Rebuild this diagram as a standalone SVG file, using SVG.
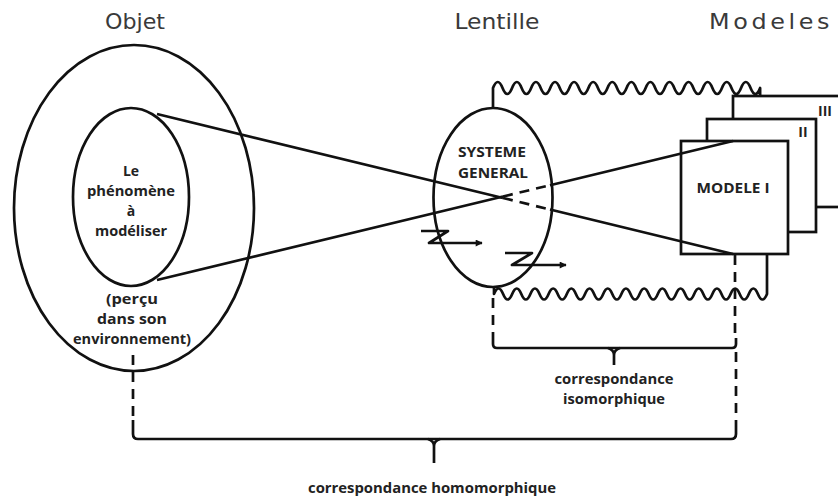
<svg xmlns="http://www.w3.org/2000/svg" width="838" height="497" viewBox="0 0 838 497">
<style>
.ln{fill:none;stroke:#111;stroke-width:2.7;stroke-linejoin:round;stroke-linecap:butt}
.dash{stroke-dasharray:10 7}
.box{fill:#fff;stroke:#111;stroke-width:2.7}
.ttl{font-family:"DejaVu Sans Condensed","DejaVu Sans",sans-serif;font-size:22px;fill:#3a3a3a;text-anchor:middle}
.lbl{font-family:"Open Sans","Lato",sans-serif;font-weight:bold;font-size:14px;fill:#222;text-anchor:middle}
</style>
<defs>
<marker id="ah" viewBox="0 0 10 10" refX="9" refY="5" markerWidth="8" markerHeight="7" orient="auto" markerUnits="userSpaceOnUse">
<path d="M0,0 L10,5 L0,10 z" fill="#111"/>
</marker>
</defs>
<rect width="838" height="497" fill="#fff"/>

<g id="titles">
<text class="ttl" x="135" y="29" textLength="60" lengthAdjust="spacingAndGlyphs">Objet</text>
<text class="ttl" x="497" y="29" textLength="85" lengthAdjust="spacingAndGlyphs">Lentille</text>
<text class="ttl" x="771" y="29" textLength="124" lengthAdjust="spacingAndGlyphs" letter-spacing="3">Modeles</text>
</g>

<g id="modeles">
<rect class="box" x="733" y="96" width="120" height="111"/>
<text class="lbl" x="825" y="116" font-size="11">III</text>
<rect class="box" x="707" y="119" width="109" height="113"/>
<text class="lbl" x="803" y="137" font-size="11">II</text>
<rect class="box" x="681" y="141" width="107" height="113"/>
<text class="lbl" x="733" y="193" textLength="73" lengthAdjust="spacingAndGlyphs">MODELE I</text>
</g>

<g id="objet">
<ellipse class="ln" cx="134" cy="208" rx="120" ry="163"/>
<text class="lbl" x="132" y="304" textLength="52" lengthAdjust="spacingAndGlyphs">(perçu</text>
<text class="lbl" x="132" y="324" textLength="70" lengthAdjust="spacingAndGlyphs">dans son</text>
<text class="lbl" x="132" y="344" textLength="118" lengthAdjust="spacingAndGlyphs">environnement)</text>
</g>

<g id="phenomene">
<ellipse class="ln" cx="131" cy="197" rx="58" ry="89"/>
<text class="lbl" x="131" y="176">Le</text>
<text class="lbl" x="131" y="196" textLength="88" lengthAdjust="spacingAndGlyphs">phénomène</text>
<text class="lbl" x="131" y="216">à</text>
<text class="lbl" x="131" y="236" textLength="72" lengthAdjust="spacingAndGlyphs">modéliser</text>
</g>

<g id="lentille">
<ellipse class="ln" cx="493" cy="197.5" rx="59.5" ry="89.5"/>
<text class="lbl" x="492" y="157" textLength="68" lengthAdjust="spacingAndGlyphs">SYSTEME</text>
<text class="lbl" x="493" y="178" textLength="70" lengthAdjust="spacingAndGlyphs">GENERAL</text>
</g>

<g id="connectors">
<path class="ln" d="M157,114 L503,198 M550,209.5 L733,254"/>
<path class="ln dash" d="M503,198 L550,209.5"/>
<path class="ln" d="M157,280 L503,196.5 M550,185.2 L733,141"/>
<path class="ln dash" d="M503,196.5 L550,185.2"/>
<path class="ln" d="M421,231 H448 L429,243 H482" marker-end="url(#ah)"/>
<path class="ln" d="M505,253 H532 L512,265 H566" marker-end="url(#ah)"/>
<path class="ln" d="M493,108 V88 q4.77,-12 9.54,0 t9.54,0 t9.54,0 t9.54,0 t9.54,0 t9.54,0 t9.54,0 t9.54,0 t9.54,0 t9.54,0 t9.54,0 t9.54,0 t9.54,0 t9.54,0 t9.54,0 t9.54,0 t9.54,0 t9.54,0 t9.54,0 t9.54,0 t9.54,0 t9.54,0 t9.54,0 t9.54,0 t9.54,0 t9.54,0 t9.54,0 t9.54,0 V96"/>
<path class="ln" d="M494,287 V294 q4.55,-11 9.1,0 t9.1,0 t9.1,0 t9.1,0 t9.1,0 t9.1,0 t9.1,0 t9.1,0 t9.1,0 t9.1,0 t9.1,0 t9.1,0 t9.1,0 t9.1,0 t9.1,0 t9.1,0 t9.1,0 t9.1,0 t9.1,0 t9.1,0 t9.1,0 t9.1,0 t9.1,0 t9.1,0 t9.1,0 t9.1,0 t9.1,0 t9.1,0 t9.1,0 t9.1,0 V254"/>
<path class="ln dash" d="M493,298 V338"/>
<path class="ln" d="M493,338 V344 Q493,348 497,348 H732 Q736,348 736,344 V338"/>
<path class="ln" d="M608,348 Q614,350 614,355 V365 M620,348 Q614,350 614,355"/>
<path class="ln dash" d="M735,255 V338"/>
<path class="ln dash" d="M736,352 V425"/>
<path class="ln dash" d="M133,355 V420"/>
<path class="ln" d="M133,420 V434 Q133,439 138,439 H731 Q736,439 736,434 V425"/>
<path class="ln" d="M428,439 Q434,441 434,446 V463 M440,439 Q434,441 434,446"/>
</g>

<g id="labels">
<text class="lbl" x="614" y="384" textLength="119" lengthAdjust="spacingAndGlyphs">correspondance</text>
<text class="lbl" x="614" y="404" textLength="102" lengthAdjust="spacingAndGlyphs">isomorphique</text>
<text class="lbl" x="432" y="493" textLength="248" lengthAdjust="spacingAndGlyphs">correspondance homomorphique</text>
</g>
</svg>
